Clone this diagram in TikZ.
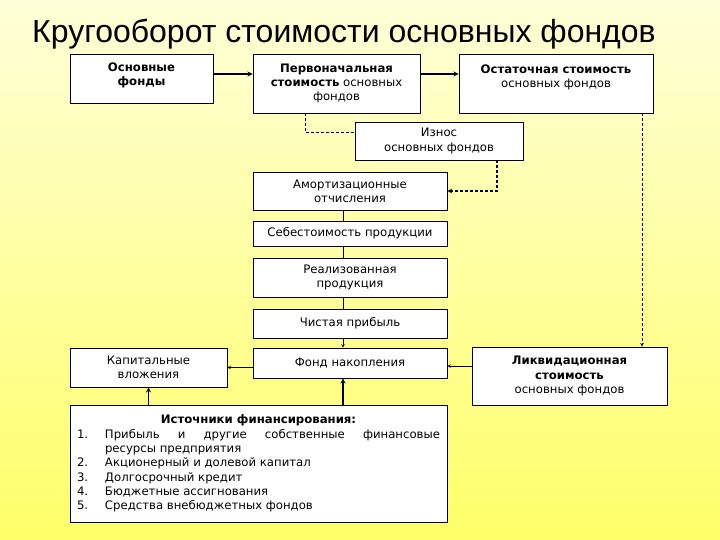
\documentclass[tikz,border=0pt]{standalone}
\usepackage{fontspec}
\setmainfont{DejaVu Sans}
\newfontfamily\headfont{Liberation Sans}
\usetikzlibrary{arrows}

\definecolor{bgtop}{RGB}{255,255,216}
\definecolor{bgbottom}{RGB}{255,255,104}

\tikzset{
  box/.style={draw, fill=white, line width=0.6pt, align=center, inner sep=2pt,
    font=\fontsize{11.7}{14.3}\selectfont},
  link/.style={line width=0.6pt},
  flow/.style={->, line width=1.3pt},
  dashlink/.style={line width=0.7pt, dash pattern=on 3pt off 2pt}
}

\begin{document}
\begin{tikzpicture}[>=stealth, x=1pt, y=-1pt]

        % Background
        \shade[top color=bgtop, bottom color=bgbottom] (0,0) rectangle (720,540);
        \useasboundingbox (0,0) rectangle (720,540);

        % Title
        \node[anchor=base west, inner sep=0, font=\headfont\fontsize{32}{38}\selectfont] (title) at (32,43) {Кругооборот стоимости основных фондов};

        % Nodes
        \node[box, minimum width=143pt, minimum height=49pt] (fonds) at (141.5,78.5) {\textbf{Основные}\\\textbf{фонды}\\[-6pt]\mbox{}};
        \node[box, minimum width=167pt, minimum height=59pt] (initial) at (336.5,83.5) {\textbf{Первоначальная}\\\textbf{стоимость} основных\\фондов};
        \node[box, minimum width=194pt, minimum height=59pt] (residual) at (556,83.5) {\textbf{Остаточная стоимость}\\основных фондов\\\mbox{}};
        \node[box, minimum width=168pt, minimum height=38pt] (wear) at (439,141) {Износ\\основных фондов};
        \node[box, minimum width=194pt, minimum height=38pt] (amort) at (350,191) {Амортизационные\\отчисления};
        \node[box, minimum width=194pt, minimum height=25pt] (cost) at (350,233.5) {Себестоимость продукции};
        \node[box, minimum width=194pt, minimum height=39pt] (sold) at (350,277.5) {Реализованная\\продукция};
        \node[box, minimum width=194pt, minimum height=29pt] (profit) at (350,323.5) {Чистая прибыль};
        \node[box, minimum width=194pt, minimum height=30pt] (accum) at (350,363) {Фонд накопления};
        \node[box, minimum width=157pt, minimum height=39pt] (capital) at (148.5,367.5) {Капитальные\\вложения};
        \node[box, minimum width=195pt, minimum height=58pt] (liquid) at (569.5,376) {\textbf{Ликвидационная}\\\textbf{стоимость}\\основных фондов};
        \node[box, align=justify, text width=363pt, inner xsep=7pt, minimum height=117pt] (sources) at (258.5,463.5) {%
          {\centering\textbf{Источники финансирования:}\par}
          \hangindent=28pt\hangafter=1\noindent\makebox[28pt][l]{1.}Прибыль и другие собственные финансовые\linebreak ресурсы предприятия\par
          \noindent\makebox[28pt][l]{2.}Акционерный и долевой капитал\par
          \noindent\makebox[28pt][l]{3.}Долгосрочный кредит\par
          \noindent\makebox[28pt][l]{4.}Бюджетные ассигнования\par
          \noindent\makebox[28pt][l]{5.}Средства внебюджетных фондов\par};

        % Edges
        \draw[flow] ([yshift=4.5pt]fonds.east) -- ([yshift=4.5pt]fonds.east -| initial.west);
        \draw[flow] ([yshift=9.5pt]initial.east) -- ([yshift=9.5pt]initial.east -| residual.west);
        \draw[dashlink] ([xshift=-31.5pt]initial.south) |- ([yshift=9pt]wear.west);
        \draw[dashlink, ->, line width=1.2pt] ([xshift=58pt]wear.south) |- (amort.east);
        \draw[dashlink, ->] ([xshift=86pt]residual.south) -- ([xshift=86pt]residual.south |- liquid.north);
        \draw[link] ([xshift=-7pt]amort.south) -- ([xshift=-7pt]cost.north);
        \draw[link] ([xshift=-7pt]cost.south) -- ([xshift=-7pt]sold.north);
        \draw[link] ([xshift=-7pt]sold.south) -- ([xshift=-7pt]profit.north);
        \draw[link, ->] ([xshift=-7pt]profit.south) -- ([xshift=-7pt]accum.north);
        \draw[link, ->] (accum.west |- capital.east) -- (capital.east);
        \draw[link, ->] ([yshift=10pt]liquid.west) -- ([yshift=10pt]liquid.west -| accum.east);
        \draw[flow] (capital.south |- sources.north) -- (capital.south);
        \draw[flow] ([xshift=-7pt]accum.south |- sources.north) -- ([xshift=-7pt]accum.south);

    \end{tikzpicture}
\end{document}
